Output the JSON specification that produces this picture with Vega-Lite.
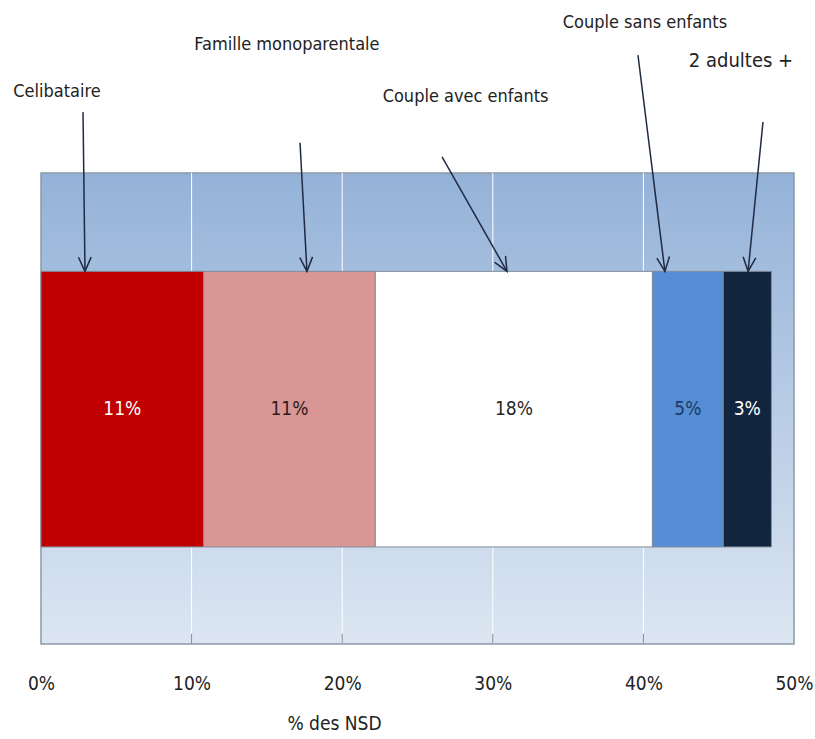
{
  "$schema": "https://vega.github.io/schema/vega-lite/v6.json",
  "width": 753,
  "height": 644,
  "autosize": {"type": "none"},
  "padding": {"left": 41, "top": 0, "right": 21, "bottom": 95},
  "background": "white",
  "config": {
    "view": {"stroke": null},
    "font": "DejaVu Sans Condensed",
    "text": {"font": "DejaVu Sans Condensed"}
  },
  "datasets": {
    "segments": [
      {"ordre": 1, "categorie": "Celibataire", "part": 10.8},
      {"ordre": 2, "categorie": "Famille monoparentale", "part": 11.4},
      {"ordre": 3, "categorie": "Couple avec enfants", "part": 18.4},
      {"ordre": 4, "categorie": "Couple sans enfants", "part": 4.7},
      {"ordre": 5, "categorie": "2 adultes +", "part": 3.2}
    ],
    "annotations": [
      {"categorie": "Celibataire", "tx": 1.06, "ty": 116.1, "x0": 2.79, "y0": 112.9, "x1": 2.92, "y1": 79.1},
      {"categorie": "Famille monoparentale", "tx": 16.33, "ty": 126.1, "x0": 17.2, "y0": 106.4, "x1": 17.66, "y1": 79.1},
      {"categorie": "Couple avec enfants", "tx": 28.19, "ty": 115.1, "x0": 26.63, "y0": 103.4, "x1": 30.94, "y1": 79.1},
      {"categorie": "Couple sans enfants", "tx": 40.1, "ty": 130.8, "x0": 39.64, "y0": 125.0, "x1": 41.43, "y1": 79.1},
      {"categorie": "2 adultes +", "tx": 46.48, "ty": 122.5, "x0": 47.94, "y0": 110.8, "x1": 46.95, "y1": 79.1}
    ],
    "grille": [{"g": 10}, {"g": 20}, {"g": 30}, {"g": 40}]
  },
  "layer": [
    {
      "data": {"values": [{}]},
      "mark": {
        "type": "rect",
        "fill": {
          "gradient": "linear", "x1": 0, "y1": 0, "x2": 0, "y2": 1,
          "stops": [{"offset": 0, "color": "#94B2D8"}, {"offset": 1, "color": "#DCE6F2"}]
        },
        "stroke": "#8C99A8",
        "strokeWidth": 1.5
      },
      "encoding": {
        "x": {
          "datum": 0, "type": "quantitative",
          "scale": {"domain": [0, 50], "nice": false, "zero": false},
          "axis": {
            "values": [0, 10, 20, 30, 40, 50],
            "labelExpr": "datum.value + '%'",
            "labelFont": "DejaVu Sans Condensed",
            "labelFontSize": 19,
            "labelColor": "#222222",
            "labelPadding": 30,
            "labelFlush": false,
            "labelOverlap": false,
            "ticks": false,
            "domain": false,
            "grid": false,
            "title": "% des NSD",
            "titleFont": "DejaVu Sans Condensed",
            "titleFontSize": 19,
            "titleFontWeight": "normal",
            "titleColor": "#222222",
            "titleX": 293,
            "titleY": 85,
            "titleBaseline": "alphabetic",
            "titleAlign": "center"
          }
        },
        "x2": {"datum": 50},
        "y": {"datum": 0, "type": "quantitative", "scale": {"domain": [0, 136.7], "nice": false, "zero": false}, "axis": null},
        "y2": {"datum": 100}
      }
    },
    {
      "data": {"name": "grille"},
      "mark": {"type": "rule", "stroke": "#FFFFFF", "strokeWidth": 1},
      "encoding": {
        "x": {"field": "g", "type": "quantitative"},
        "y": {"datum": 0, "type": "quantitative"},
        "y2": {"datum": 100}
      }
    },
    {
      "data": {"name": "grille"},
      "mark": {"type": "rule", "stroke": "#7F8C9A", "strokeWidth": 1},
      "encoding": {
        "x": {"field": "g", "type": "quantitative"},
        "y": {"datum": 0, "type": "quantitative"},
        "y2": {"datum": 2.2}
      }
    },
    {
      "data": {"name": "segments"},
      "transform": [
        {"window": [{"op": "sum", "field": "part", "as": "fin"}], "sort": [{"field": "ordre"}], "frame": [null, 0]},
        {"calculate": "datum.fin - datum.part", "as": "debut"}
      ],
      "mark": {"type": "rect", "stroke": "#7F8C9A", "strokeWidth": 1},
      "encoding": {
        "x": {"field": "debut", "type": "quantitative"},
        "x2": {"field": "fin"},
        "y": {"datum": 20.6, "type": "quantitative"},
        "y2": {"datum": 79.1},
        "fill": {
          "field": "categorie", "type": "nominal", "legend": null,
          "scale": {
            "domain": ["Celibataire", "Famille monoparentale", "Couple avec enfants", "Couple sans enfants", "2 adultes +"],
            "range": ["#C00000", "#D99694", "#FFFFFF", "#558ED5", "#11253F"]
          }
        }
      }
    },
    {
      "data": {"name": "segments"},
      "transform": [
        {"window": [{"op": "sum", "field": "part", "as": "fin"}], "sort": [{"field": "ordre"}], "frame": [null, 0]},
        {"calculate": "datum.fin - datum.part / 2", "as": "milieu"},
        {"calculate": "format(datum.part / 100, '.0%')", "as": "etiquette"}
      ],
      "mark": {"type": "text", "fontSize": 19, "baseline": "middle", "align": "center", "font": "DejaVu Sans Condensed"},
      "encoding": {
        "x": {"field": "milieu", "type": "quantitative"},
        "y": {"datum": 49.85, "type": "quantitative"},
        "text": {"field": "etiquette"},
        "color": {
          "field": "categorie", "type": "nominal", "legend": null,
          "scale": {
            "domain": ["Celibataire", "Famille monoparentale", "Couple avec enfants", "Couple sans enfants", "2 adultes +"],
            "range": ["#FFFFFF", "#2E1C1C", "#262626", "#1F3864", "#FFFFFF"]
          }
        }
      }
    },
    {
      "data": {"name": "annotations"},
      "mark": {"type": "rule", "stroke": "#1F2A44", "strokeWidth": 1.5},
      "encoding": {
        "x": {"field": "x0", "type": "quantitative"},
        "y": {"field": "y0", "type": "quantitative"},
        "x2": {"field": "x1"},
        "y2": {"field": "y1"}
      }
    },
    {
      "data": {"name": "annotations"},
      "transform": [
        {"calculate": "-atan2((datum.x1 - datum.x0) * 15.06, (datum.y0 - datum.y1) * 4.71) * 180 / PI", "as": "angle"}
      ],
      "mark": {"type": "point", "shape": "M-0.45,-1L0,0L0.45,-1", "filled": false, "stroke": "#1F2A44", "strokeWidth": 1.5, "size": 800, "opacity": 1},
      "encoding": {
        "x": {"field": "x1", "type": "quantitative"},
        "y": {"field": "y1", "type": "quantitative"},
        "angle": {"field": "angle", "type": "quantitative", "scale": null}
      }
    },
    {
      "data": {"name": "annotations"},
      "mark": {"type": "text", "baseline": "alphabetic", "align": "center", "color": "#222222", "font": "DejaVu Sans Condensed"},
      "encoding": {
        "x": {"field": "tx", "type": "quantitative"},
        "y": {"field": "ty", "type": "quantitative"},
        "text": {"field": "categorie"},
        "size": {"condition": {"test": "datum.categorie === '2 adultes +'", "value": 20}, "value": 18}
      }
    }
  ]
}
